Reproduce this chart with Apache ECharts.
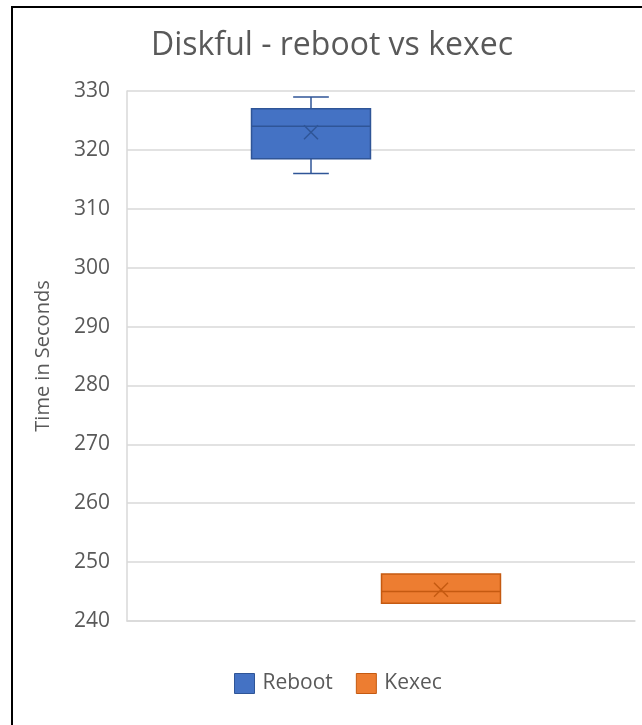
<!DOCTYPE html>
<html>
<head>
<meta charset="utf-8">
<script src="https://cdn.jsdelivr.net/npm/echarts@6/dist/echarts.min.js"></script>
<style>
html,body{margin:0;padding:0;background:#fff;}
#chart{width:642px;height:725px;}
</style>
</head>
<body>
<div id="chart"></div>
<script>
// ---- data ----
const chartTitle = 'Diskful - reboot vs kexec';
const yAxisName = 'Time in Seconds';
const categories = ['Reboot', 'Kexec'];
// [min, Q1, median, Q3, max]
const rebootStats = [316, 318.5, 324, 327, 329];
const kexecStats = [243, 243, 245, 248, 248];
const rebootMean = 323;
const kexecMean = 245.3;
const yTicks = [240, 250, 260, 270, 280, 290, 300, 310, 320, 330];

// ---- style ----
const FONT = 'Open Sans';
const TEXT = '#595959';
const colors = {Reboot: '#4472C4', Kexec: '#ED7D31'};
const borders = {Reboot: '#2F5597', Kexec: '#C55A11'};
const BOX_RATIO = 0.915;
const CAP_RATIO = 0.3;

function renderBox(params, api) {
  const x = api.value(0);
  const band = api.size([1, 0])[0];
  const w = band * BOX_RATIO;
  const cw = w * CAP_RATIO;
  const c = api.coord([x, api.value(1)]);
  const cx = c[0];
  const yMin = c[1];
  const yQ1 = api.coord([x, api.value(2)])[1];
  const yMed = api.coord([x, api.value(3)])[1];
  const yQ3 = api.coord([x, api.value(4)])[1];
  const yMax = api.coord([x, api.value(5)])[1];
  const yMean = api.coord([x, api.value(6)])[1];
  const name = params.seriesName;
  const fill = colors[name], stroke = borders[name];
  const children = [];
  const lineStyle = {stroke: stroke, lineWidth: 1.5};
  if (yMax < yQ3 - 0.5) {
    children.push({type: 'line', shape: {x1: cx, y1: yMax, x2: cx, y2: yQ3}, style: lineStyle});
    children.push({type: 'line', shape: {x1: cx - cw / 2, y1: yMax, x2: cx + cw / 2, y2: yMax}, style: lineStyle});
  }
  if (yMin > yQ1 + 0.5) {
    children.push({type: 'line', shape: {x1: cx, y1: yQ1, x2: cx, y2: yMin}, style: lineStyle});
    children.push({type: 'line', shape: {x1: cx - cw / 2, y1: yMin, x2: cx + cw / 2, y2: yMin}, style: lineStyle});
  }
  children.push({type: 'rect', shape: {x: cx - w / 2, y: yQ3, width: w, height: yQ1 - yQ3},
    style: {fill: fill, stroke: stroke, lineWidth: 1.5}});
  children.push({type: 'line', shape: {x1: cx - w / 2, y1: yMed, x2: cx + w / 2, y2: yMed}, style: {stroke: stroke, lineWidth: 1.5}});
  const m = 7;
  children.push({type: 'line', shape: {x1: cx - m, y1: yMean - m, x2: cx + m, y2: yMean + m}, style: {stroke: stroke, lineWidth: 1.5}});
  children.push({type: 'line', shape: {x1: cx - m, y1: yMean + m, x2: cx + m, y2: yMean - m}, style: {stroke: stroke, lineWidth: 1.5}});
  return {type: 'group', children: children};
}

const chart = echarts.init(document.getElementById('chart'), null, {renderer: 'canvas'});
chart.setOption({
  backgroundColor: '#fff',
  animation: false,
  title: {
    text: chartTitle, left: 146, top: 25,
    textStyle: {fontFamily: FONT, fontSize: 32, fontWeight: 'normal', color: TEXT}
  },
  legend: {
    bottom: 26, left: 229, icon: 'rect', itemWidth: 20, itemHeight: 20, itemGap: 23,
    textStyle: {fontFamily: FONT, fontSize: 21, color: TEXT, padding: [0, 0, 0, 3]},
    data: categories.map(n => ({name: n, itemStyle: {color: colors[n], borderColor: borders[n], borderWidth: 1}}))
  },
  graphic: [
    {type: 'line', shape: {x1: 12, y1: 7, x2: 12, y2: 725}, style: {stroke: '#000', lineWidth: 2}},
    {type: 'line', shape: {x1: 11, y1: 7, x2: 642, y2: 7}, style: {stroke: '#000', lineWidth: 2}}
  ],
  grid: [
    {left: 127, right: 7, top: 91, bottom: 104},
    {left: 246, right: 136, top: 91, bottom: 104}
  ],
  xAxis: [
    {type: 'category', gridIndex: 0, data: [''], axisLine: {lineStyle: {color: '#d9d9d9', width: 1.5}},
     axisTick: {show: false}, axisLabel: {show: false}},
    {type: 'category', gridIndex: 1, data: categories, show: false}
  ],
  yAxis: [
    {type: 'value', gridIndex: 0, min: yTicks[0], max: yTicks[yTicks.length - 1], interval: 10,
     name: yAxisName, nameLocation: 'middle', nameGap: 74, nameRotate: 90,
     nameTextStyle: {fontFamily: FONT, fontSize: 20, color: TEXT},
     axisLine: {show: true, lineStyle: {color: '#d9d9d9', width: 1.5}}, axisTick: {show: false},
     axisLabel: {fontFamily: FONT, fontSize: 21, color: TEXT, margin: 17},
     splitLine: {lineStyle: {color: '#d9d9d9', width: 1.5}}},
    {type: 'value', gridIndex: 1, min: yTicks[0], max: yTicks[yTicks.length - 1], interval: 10, show: false,
     splitLine: {show: false}}
  ],
  series: [
    {name: 'Reboot', type: 'custom', xAxisIndex: 1, yAxisIndex: 1, color: colors.Reboot,
     renderItem: renderBox, data: [[0].concat(rebootStats, [rebootMean])]},
    {name: 'Kexec', type: 'custom', xAxisIndex: 1, yAxisIndex: 1, color: colors.Kexec,
     renderItem: renderBox, data: [[1].concat(kexecStats, [kexecMean])]}
  ]
});
</script>
</body>
</html>
